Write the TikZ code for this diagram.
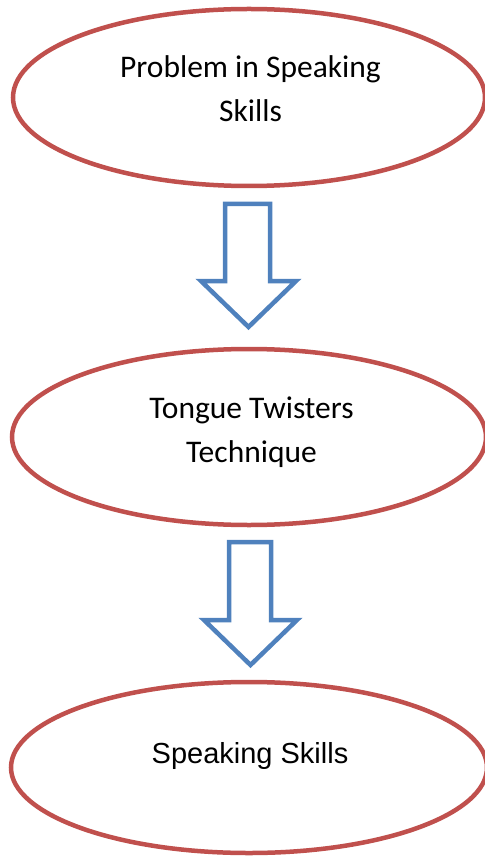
\documentclass[tikz,border=0pt]{standalone}
\usepackage{fontspec}
\setmainfont{Carlito}
\newfontfamily\arialfont{Liberation Sans}
\usetikzlibrary{shapes.geometric}
\definecolor{ovred}{HTML}{C0504D}
\definecolor{arblue}{HTML}{4F81BD}
\tikzset{
  oval/.style={draw=ovred, line width=4.5pt, shape=ellipse, inner sep=0pt, fill=white},
  lbl/.style={font=\fontsize{31.5}{44}\selectfont, align=center, inner sep=0pt, anchor=base},
  blockarrow/.style={draw=arblue, line width=4.5pt, fill=white, line join=miter}
}
\begin{document}
\begin{tikzpicture}[x=1pt,y=-1pt]
\useasboundingbox (0,0) rectangle (484,858);
\node[oval, minimum width=472pt, minimum height=177pt] (e1) at (249,97.5) {};
\node[oval, minimum width=474pt, minimum height=176pt] (e2) at (249,437) {};
\node[oval, minimum width=476pt, minimum height=171pt] (e3) at (249,767.5) {};
\node[lbl] (t1) at (250.5,122) {Problem in Speaking\\Skills};
\node[lbl] (t2) at (251.5,462) {Tongue Twisters\\Technique};
\node[lbl, font=\arialfont\fontsize{29}{40}\selectfont] (t3) at (250,763) {Speaking Skills};
\draw[blockarrow] (225,204) -- (270,204) -- (270,281) -- (296,281) -- (248.5,327) -- (201,281) -- (225,281) -- cycle;
\draw[blockarrow] (229,542) -- (271,542) -- (271,620) -- (297,620) -- (250.5,665) -- (204,620) -- (229,620) -- cycle;
\end{tikzpicture}
\end{document}
